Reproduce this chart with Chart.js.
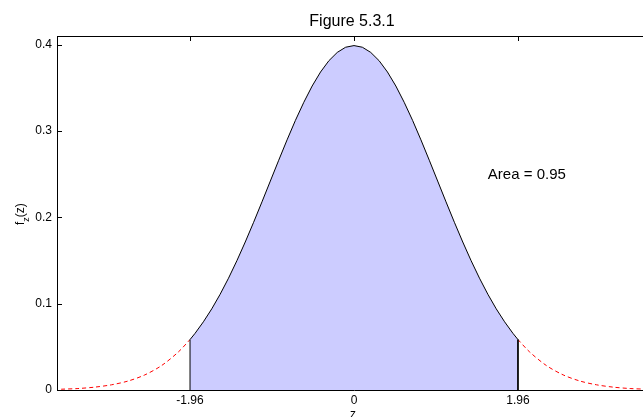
<!DOCTYPE html>
<html>
<head>
<meta charset="utf-8">
<script src="https://cdn.jsdelivr.net/npm/chart.js@4/dist/chart.umd.min.js"></script>
<style>
  html, body { margin: 0; padding: 0; background: #fff; overflow: hidden; }
  #wrap { width: 643px; height: 417px; overflow: hidden; }
</style>
</head>
<body>
<div id="wrap"><canvas id="chart" width="660" height="417"></canvas></div>
<script>
// standard normal density
const zValues = [
  -3.5, -3.3, -3.1, -2.9, -2.7, -2.5, -2.3, -2.1, -1.96,
  -1.9, -1.8, -1.7, -1.6, -1.5, -1.4, -1.3, -1.2, -1.1, -1.0,
  -0.9, -0.8, -0.7, -0.6, -0.5, -0.4, -0.3, -0.2, -0.1, 0,
  0.1, 0.2, 0.3, 0.4, 0.5, 0.6, 0.7, 0.8, 0.9, 1.0,
  1.1, 1.2, 1.3, 1.4, 1.5, 1.6, 1.7, 1.8, 1.9, 1.96,
  2.1, 2.3, 2.5, 2.7, 2.9, 3.1, 3.3, 3.5
];
const fValues = [
  0.0009, 0.0017, 0.0033, 0.0060, 0.0104, 0.0175, 0.0283, 0.0440, 0.0584,
  0.0656, 0.0790, 0.0940, 0.1109, 0.1295, 0.1497, 0.1714, 0.1942, 0.2179, 0.2420,
  0.2661, 0.2897, 0.3123, 0.3332, 0.3521, 0.3683, 0.3814, 0.3910, 0.3970, 0.3989,
  0.3970, 0.3910, 0.3814, 0.3683, 0.3521, 0.3332, 0.3123, 0.2897, 0.2661, 0.2420,
  0.2179, 0.1942, 0.1714, 0.1497, 0.1295, 0.1109, 0.0940, 0.0790, 0.0656, 0.0584,
  0.0440, 0.0283, 0.0175, 0.0104, 0.0060, 0.0033, 0.0017, 0.0009
];
const xTicks = [-1.96, 0, 1.96];
const yTicks = [0, 0.1, 0.2, 0.3, 0.4];
const zCut = 1.96;
const areaText = 'Area = 0.95';

const font = "'Liberation Sans', Arial, sans-serif";

const pts = zValues.map((z, i) => ({ x: z, y: fValues[i] }));
const middle = [{ x: -zCut, y: 0 }]
  .concat(pts.filter(p => Math.abs(p.x) <= zCut))
  .concat([{ x: zCut, y: 0 }]);
const leftTail = pts.filter(p => p.x <= -zCut);
const rightTail = pts.filter(p => p.x >= zCut);

const decor = {
  id: 'decor',
  afterDraw(chart) {
    const ctx = chart.ctx;
    const area = chart.chartArea;
    const xs = chart.scales.x, ys = chart.scales.y;
    ctx.save();
    ctx.strokeStyle = '#000';
    ctx.lineWidth = 1;
    ctx.beginPath();
    // top border
    ctx.moveTo(area.left, area.top + 0.5);
    ctx.lineTo(area.right, area.top + 0.5);
    // inward ticks (top and left)
    xTicks.forEach(v => {
      const px = Math.round(xs.getPixelForValue(v)) + 0.5;
      ctx.moveTo(px, area.top);
      ctx.lineTo(px, area.top + 5);
    });
    yTicks.forEach(v => {
      const py = Math.round(ys.getPixelForValue(v)) + 0.5;
      ctx.moveTo(area.left, py);
      ctx.lineTo(area.left + 5, py);
    });
    ctx.stroke();

    ctx.fillStyle = '#000';
    // title
    ctx.font = '16px ' + font;
    ctx.textAlign = 'center';
    ctx.textBaseline = 'alphabetic';
    ctx.fillText('Figure 5.3.1', 352, 26);
    // area label
    ctx.font = '15px ' + font;
    ctx.textAlign = 'left';
    ctx.fillText(areaText, xs.getPixelForValue(1.6), ys.getPixelForValue(0.244));
    // x label
    ctx.font = '12px ' + font;
    ctx.textAlign = 'center';
    ctx.fillText('z', xs.getPixelForValue(0) - 1, 418);
    // y label f_z(z)
    ctx.translate(24, 225);
    ctx.rotate(-Math.PI / 2);
    ctx.textAlign = 'left';
    ctx.font = '12px ' + font;
    ctx.fillText('f', 0, 0);
    let w = ctx.measureText('f').width;
    ctx.font = '9px ' + font;
    ctx.fillText('z', w, 5);
    w += ctx.measureText('z').width;
    ctx.font = '12px ' + font;
    ctx.fillText('(z)', w, 0);
    ctx.restore();
  }
};

new Chart(document.getElementById('chart'), {
  type: 'line',
  data: {
    datasets: [
      {
        data: middle,
        borderColor: '#000',
        backgroundColor: '#ccccff',
        borderWidth: 1,
        fill: 'origin',
        tension: 0,
        pointRadius: 0
      },
      {
        data: leftTail,
        borderColor: '#ff0000',
        borderWidth: 1,
        borderDash: [4, 3],
        fill: false,
        tension: 0.3,
        pointRadius: 0
      },
      {
        data: rightTail,
        borderColor: '#ff0000',
        borderWidth: 1,
        borderDash: [4, 3],
        fill: false,
        tension: 0.3,
        pointRadius: 0
      }
    ]
  },
  options: {
    responsive: false,
    animation: false,
    layout: { padding: { left: 0, top: 36, right: 9, bottom: 0 } },
    plugins: { legend: { display: false }, tooltip: { enabled: false }, title: { display: false } },
    scales: {
      x: {
        type: 'linear',
        min: -3.55,
        max: 3.55,
        afterBuildTicks: scale => { scale.ticks = xTicks.map(v => ({ value: v })); },
        afterFit: scale => { scale.height = 27; },
        ticks: { color: '#000', font: { family: font, size: 12 }, padding: 3, maxRotation: 0,
                 callback: v => String(v) },
        grid: { display: false, drawTicks: false },
        border: { color: '#000', width: 1 }
      },
      y: {
        min: 0,
        max: 0.41,
        afterBuildTicks: scale => { scale.ticks = yTicks.map(v => ({ value: v })); },
        afterFit: scale => { scale.width = 57; },
        ticks: { color: '#000', font: { family: font, size: 12 }, padding: 5,
                 callback: v => String(v) },
        grid: { display: false, drawTicks: false },
        border: { color: '#000', width: 1 }
      }
    }
  },
  plugins: [decor]
});
</script>
</body>
</html>
